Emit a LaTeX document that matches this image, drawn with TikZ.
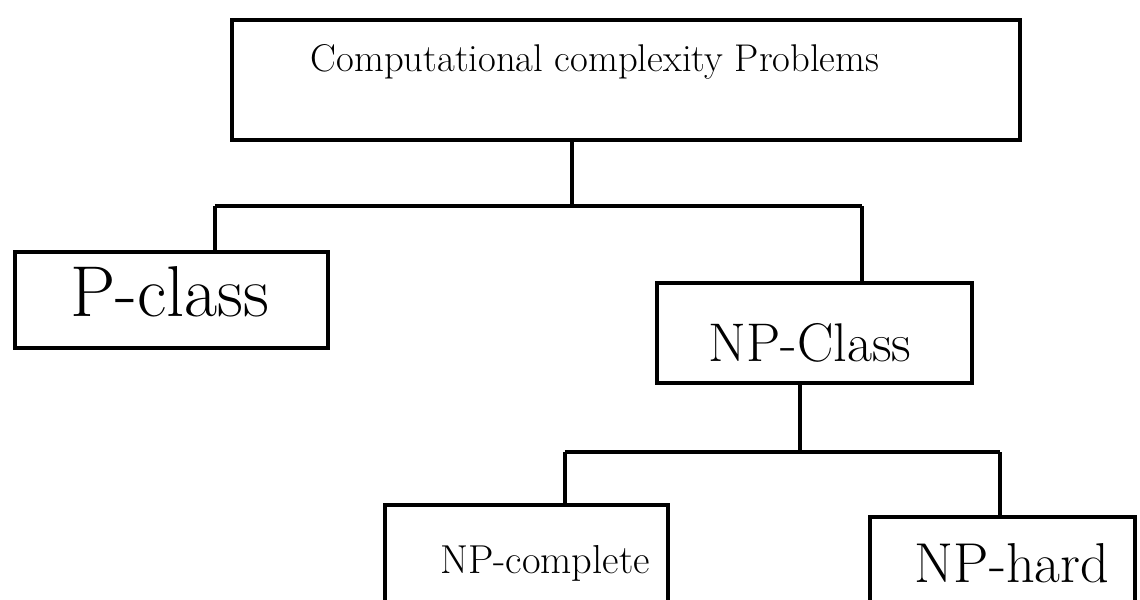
\documentclass[tikz,border=0pt]{standalone}
\usepackage{fontspec}
\begin{document}
\begin{tikzpicture}[x=0.02cm, y=-0.02cm,
  box/.style={draw, line width=2pt, rectangle, inner sep=0pt},
  wire/.style={line width=2pt},
  lbl/.style={inner sep=0pt, anchor=center}]
  \useasboundingbox (0,0) rectangle (1140,599);
  \clip (0,0) rectangle (1140,599);

  % boxes
  \node[box, minimum width=788*0.02cm, minimum height=120*0.02cm] (top) at (626,80) {};
  \node[box, minimum width=313*0.02cm, minimum height=96*0.02cm] (pclass) at (171.5,300) {};
  \node[box, minimum width=315*0.02cm, minimum height=100*0.02cm] (npclass) at (814.5,333) {};
  \node[box, minimum width=283*0.02cm, minimum height=135*0.02cm] (npc) at (526.5,572.5) {};
  \node[box, minimum width=265*0.02cm, minimum height=123*0.02cm] (nph) at (1002.5,578.5) {};

  % labels
  \node[lbl] (topL) at (595,62) {\fontsize{22}{25}\selectfont Computational complexity Problems};
  \node[lbl] (pL) at (170,292) {\fontsize{41}{44}\selectfont P-class};
  \node[lbl] (npL) at (810,343) {\fontsize{31}{34}\selectfont NP-Class};
  \node[lbl] (npcL) at (545,563) {\fontsize{23}{26}\selectfont NP-complete};
  \node[lbl] (nphL) at (1012,563) {\fontsize{32}{35}\selectfont NP-hard};

  % first level branching
  \coordinate (b1) at (572,206);
  \coordinate (pl) at (215,206);
  \coordinate (pr) at (862,206);
  \draw[wire] (top.south -| b1) -- (b1);
  \draw[wire] (pl) -- (pr);
  \draw[wire] (pl) -- (pl |- pclass.north);
  \draw[wire] (pr) -- (pr |- npclass.north);

  % second level branching
  \coordinate (b2) at (800,452);
  \coordinate (ql) at (565,452);
  \coordinate (qr) at (1000,452);
  \draw[wire] (npclass.south -| b2) -- (b2);
  \draw[wire] (ql) -- (qr);
  \draw[wire] (ql) -- (ql |- npc.north);
  \draw[wire] (qr) -- (qr |- nph.north);
\end{tikzpicture}
\end{document}
